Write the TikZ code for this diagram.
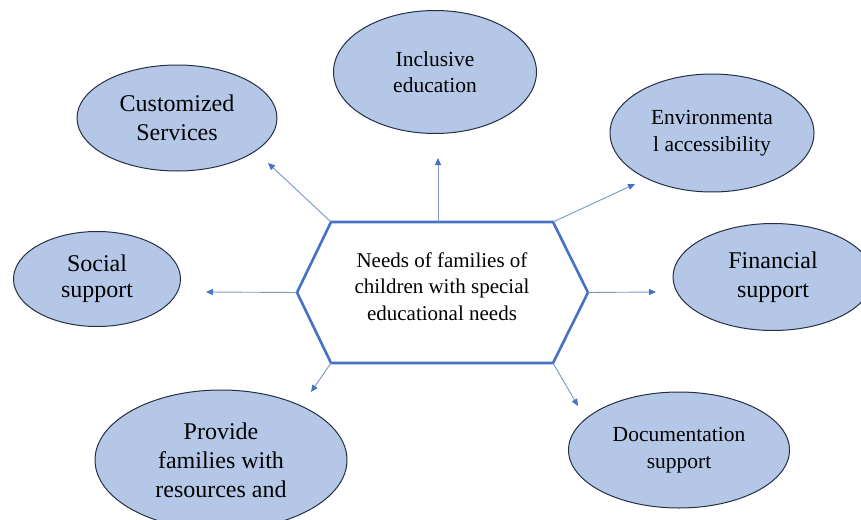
\documentclass[tikz,border=0pt]{standalone}
\usepackage{fontspec}
\setmainfont{Liberation Serif}
\newfontfamily\TimesFam{Liberation Serif}
\usepackage{xcolor}
\definecolor{Col1}{RGB}{68,114,196}
\definecolor{Col2}{RGB}{180,199,231}
\definecolor{Col3}{RGB}{38,48,68}
\definecolor{Col4}{RGB}{122,150,198}
\usetikzlibrary{shapes}
\usetikzlibrary{arrows.meta}
\tikzstyle{Hub}=[inner sep=0pt,outer sep=0pt,minimum width=222pt,
minimum height=141pt,align=center,text depth=12pt,
font=\TimesFam\fontsize{21}{26.5}\selectfont]
\tikzstyle{HubBorder}=[draw=Col1,line width=2.6pt,line join=miter]
\tikzstyle{Need}=[ellipse,draw=Col3,fill=Col2,line width=1pt,
inner sep=0pt,align=center]
\tikzstyle{NeedL}=[Need,font=\TimesFam\fontsize{24}{29}\selectfont]
\tikzstyle{NeedS}=[Need,font=\TimesFam\fontsize{21.5}{26.5}\selectfont]
\tikzstyle{Edge}=[draw=Col4,line width=0.9pt,
-{Triangle[length=7pt,width=6pt,color=Col1]}]

\begin{document}
\begin{tikzpicture}[x=1pt,y=-1pt]
        \useasboundingbox[fill=white](0,0)rectangle(861,519);
        \node[NeedL,minimum width=200pt,minimum height=106pt](cust)
            at(177,118){Customized\\Services};
        \node[NeedS,minimum width=203pt,minimum height=123pt](incl)
            at(435,72){Inclusive\\education};
        \node[NeedS,minimum width=204pt,minimum height=118pt](envi)
            at(712,133){Environmenta\\l accessibility};
        \node[NeedL,minimum width=167pt,minimum height=95pt,
            font=\TimesFam\fontsize{24}{26}\selectfont](soci)
            at(97,279){Social\\support};
        \node[NeedL,minimum width=200pt,minimum height=107pt](fina)
            at(773,277){Financial\\support};
        \node[NeedS,minimum width=221pt,minimum height=116pt](docu)
            at(679,450){Documentation\\support};
        \node[NeedL,minimum width=252pt,minimum height=140pt](prov)
            at(221,460){Provide\\families with\\resources and};
        \node[Hub](hub)at(442,292.5){Needs of families of\\
            children with special\\educational needs};
        \coordinate(hubW)at([xshift=-34pt]hub.west);
        \coordinate(hubE)at([xshift=35pt]hub.east);
        \draw[HubBorder](hub.north west)--(hub.north east)--(hubE)
            --(hub.south east)--(hub.south west)--(hubW)--cycle;
        \coordinate(tcust)at(268,163);
        \coordinate(tincl)at(438,158);
        \coordinate(tenvi)at(635,184);
        \coordinate(tsoci)at(206,292);
        \coordinate(tfina)at(656,292);
        \coordinate(tdocu)at(578,406);
        \coordinate(tprov)at(311,392);
        \draw[Edge](hub.north west)--(tcust);
        \draw[Edge](hub.north -| tincl)--(tincl);
        \draw[Edge](hub.north east)--(tenvi);
        \draw[Edge](hubW)--(tsoci);
        \draw[Edge](hubE)--(tfina);
        \draw[Edge](hub.south east)--(tdocu);
        \draw[Edge](hub.south west)--(tprov);
    \end{tikzpicture}
\end{document}
